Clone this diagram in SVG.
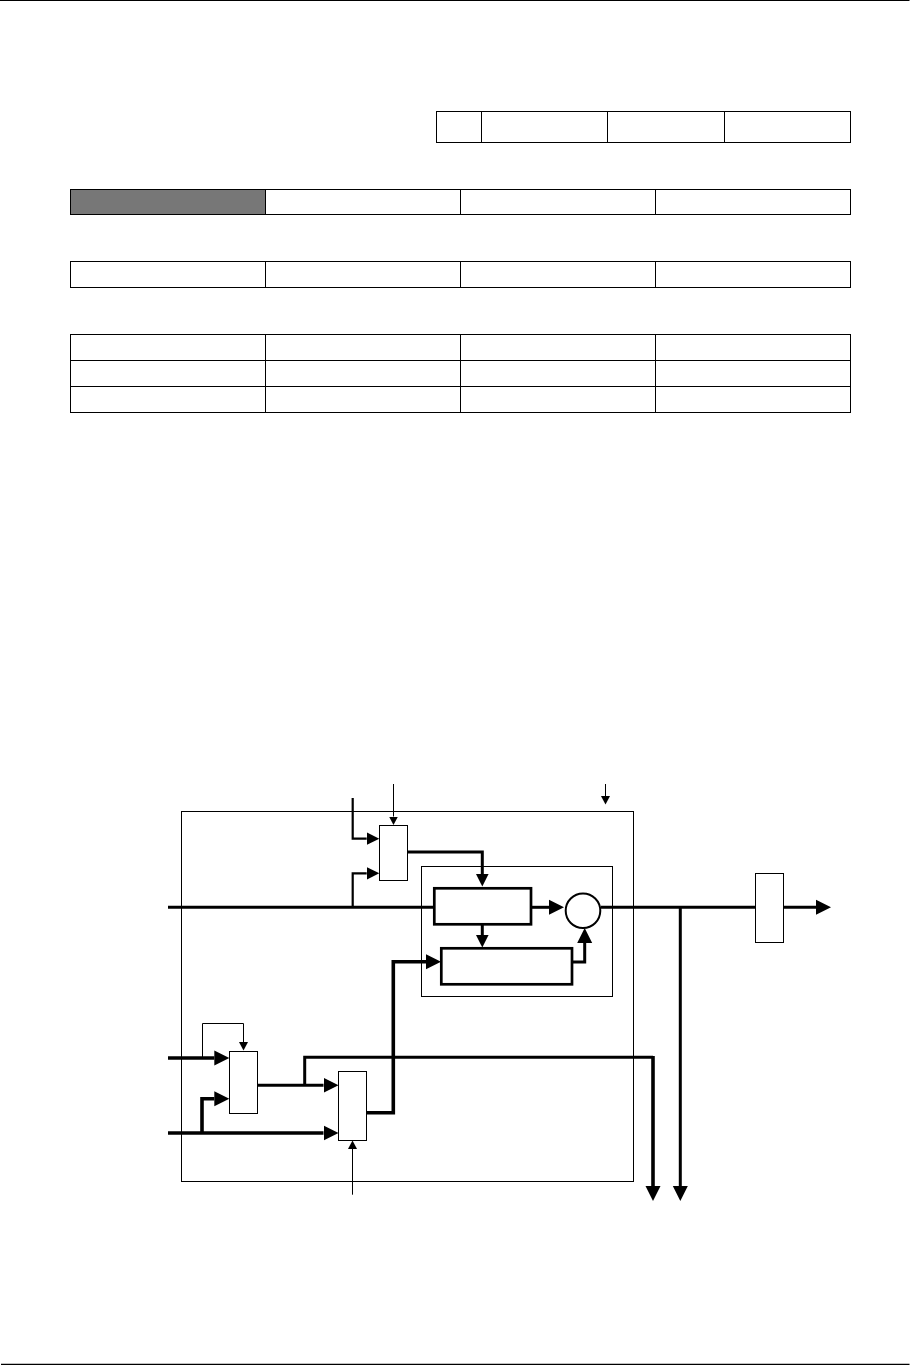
<svg xmlns="http://www.w3.org/2000/svg" width="911" height="1365" viewBox="0 0 911 1365">
<defs>
<style>
.cell{fill:#fff;stroke:#000;stroke-width:1}
.gray{fill:#777;stroke:#000;stroke-width:1}
.box{fill:#fff;stroke:#000;stroke-width:1}
.hbox{fill:#fff;stroke:#000;stroke-width:2.7}
.t{fill:none;stroke:#000;stroke-width:1}
.m{fill:none;stroke:#000;stroke-width:2.2}
.h{fill:none;stroke:#000;stroke-width:3}
.x{fill:none;stroke:#000;stroke-width:3.6}
</style>
<marker id="lg" markerUnits="userSpaceOnUse" markerWidth="16" markerHeight="16" refX="0" refY="8" orient="auto"><path d="M0 0.5L15 8L0 15.5Z" fill="#000"/></marker>
<marker id="md" markerUnits="userSpaceOnUse" markerWidth="14" markerHeight="14" refX="0" refY="7" orient="auto"><path d="M0 0.7L12.6 7L0 13.3Z" fill="#000"/></marker>
<marker id="sm" markerUnits="userSpaceOnUse" markerWidth="10" markerHeight="10" refX="0" refY="5" orient="auto"><path d="M0 0.5L8.6 5L0 9.5Z" fill="#000"/></marker>
</defs>
<rect width="911" height="1365" fill="#fff"/>
<g id="page-rules"><path d="M0 0.5H909.5M1 1364.3H909.5" fill="none" stroke="#000" stroke-width="1.2"/></g>
<g id="table-top">
<rect class="cell" x="436.5" y="111.5" width="45" height="31"/><rect class="cell" x="481.5" y="111.5" width="126" height="31"/><rect class="cell" x="607.5" y="111.5" width="117" height="31"/><rect class="cell" x="724.5" y="111.5" width="126" height="31"/>
</g>
<g id="table-row-1">
<rect class="gray" x="70.5" y="189.5" width="195" height="25"/><rect class="cell" x="265.5" y="189.5" width="195" height="25"/><rect class="cell" x="460.5" y="189.5" width="195" height="25"/><rect class="cell" x="655.5" y="189.5" width="195" height="25"/>
</g>
<g id="table-row-2">
<rect class="cell" x="70.5" y="261.5" width="195" height="26"/><rect class="cell" x="265.5" y="261.5" width="195" height="26"/><rect class="cell" x="460.5" y="261.5" width="195" height="26"/><rect class="cell" x="655.5" y="261.5" width="195" height="26"/>
</g>
<g id="table-bottom">
<rect class="cell" x="70.5" y="334.5" width="195" height="26"/><rect class="cell" x="265.5" y="334.5" width="195" height="26"/><rect class="cell" x="460.5" y="334.5" width="195" height="26"/><rect class="cell" x="655.5" y="334.5" width="195" height="26"/>
<rect class="cell" x="70.5" y="360.5" width="195" height="26"/><rect class="cell" x="265.5" y="360.5" width="195" height="26"/><rect class="cell" x="460.5" y="360.5" width="195" height="26"/><rect class="cell" x="655.5" y="360.5" width="195" height="26"/>
<rect class="cell" x="70.5" y="386.5" width="195" height="26"/><rect class="cell" x="265.5" y="386.5" width="195" height="26"/><rect class="cell" x="460.5" y="386.5" width="195" height="26"/><rect class="cell" x="655.5" y="386.5" width="195" height="26"/>
</g>
<g id="outer-frame"><rect class="t" x="181.5" y="811.5" width="452" height="370"/></g>
<g id="inner-frame"><rect class="t" x="421.5" y="866.5" width="191" height="130"/></g>
<g id="connectors">
<path class="h" d="M168 907.3H434"/>
<path class="m" d="M352.7 907.3V873.3H366.7" marker-end="url(#md)"/>
<path class="m" d="M352.7 798V838.7H366.7" marker-end="url(#md)"/>
<path class="t" d="M393.5 784V816.5" marker-end="url(#sm)"/>
<path class="t" d="M605.5 784V796" marker-end="url(#sm)"/>
<path class="h" d="M407.7 852H482.3V874" marker-end="url(#md)"/>
<path class="h" d="M482.3 924V935" marker-end="url(#md)"/>
<path class="h" d="M531 907.3H549" marker-end="url(#lg)"/>
<path class="h" d="M572 962H584.7V943" marker-end="url(#lg)"/>
<path class="h" d="M601 907.3H755.5"/>
<path class="h" d="M783.5 907.3H816" marker-end="url(#lg)"/>
<path class="h" d="M680.3 907.3V1186" marker-end="url(#lg)"/>
<path class="x" d="M366.7 1112.7H393.3V961.7H426" marker-end="url(#lg)"/>
<path class="x" d="M168 1058H214.3" marker-end="url(#lg)"/>
<path class="t" d="M202.5 1058V1023.5H243.5V1042" marker-end="url(#sm)"/>
<path class="x" d="M168 1133H323.5" marker-end="url(#lg)"/>
<path class="x" d="M202 1133V1098.7H214.3" marker-end="url(#lg)"/>
<path class="h" d="M257.7 1085.3H323.5" marker-end="url(#lg)"/>
<path class="h" d="M304.7 1085.3V1057.3H653"/>
<path class="x" d="M653 1056V1186" marker-end="url(#lg)"/>
<path class="t" d="M352.5 1194.7V1149" marker-end="url(#sm)"/>
</g>
<g id="node-mux-top"><rect class="box" x="379.5" y="825.5" width="28" height="55"/></g>
<g id="node-block-a"><rect class="hbox" x="434.3" y="888.3" width="96.7" height="36"/></g>
<g id="node-block-b"><rect class="hbox" x="441.3" y="948.3" width="130.7" height="36"/></g>
<g id="node-sum"><circle cx="583" cy="910.7" r="17.3" fill="#fff" stroke="#000" stroke-width="2"/></g>
<g id="node-output"><rect class="box" x="755.5" y="873.5" width="28" height="69"/></g>
<g id="node-mux-left"><rect class="box" x="229.5" y="1051.5" width="28" height="62"/></g>
<g id="node-mux-mid"><rect class="box" x="338.5" y="1071.5" width="28" height="69"/></g>
</svg>
